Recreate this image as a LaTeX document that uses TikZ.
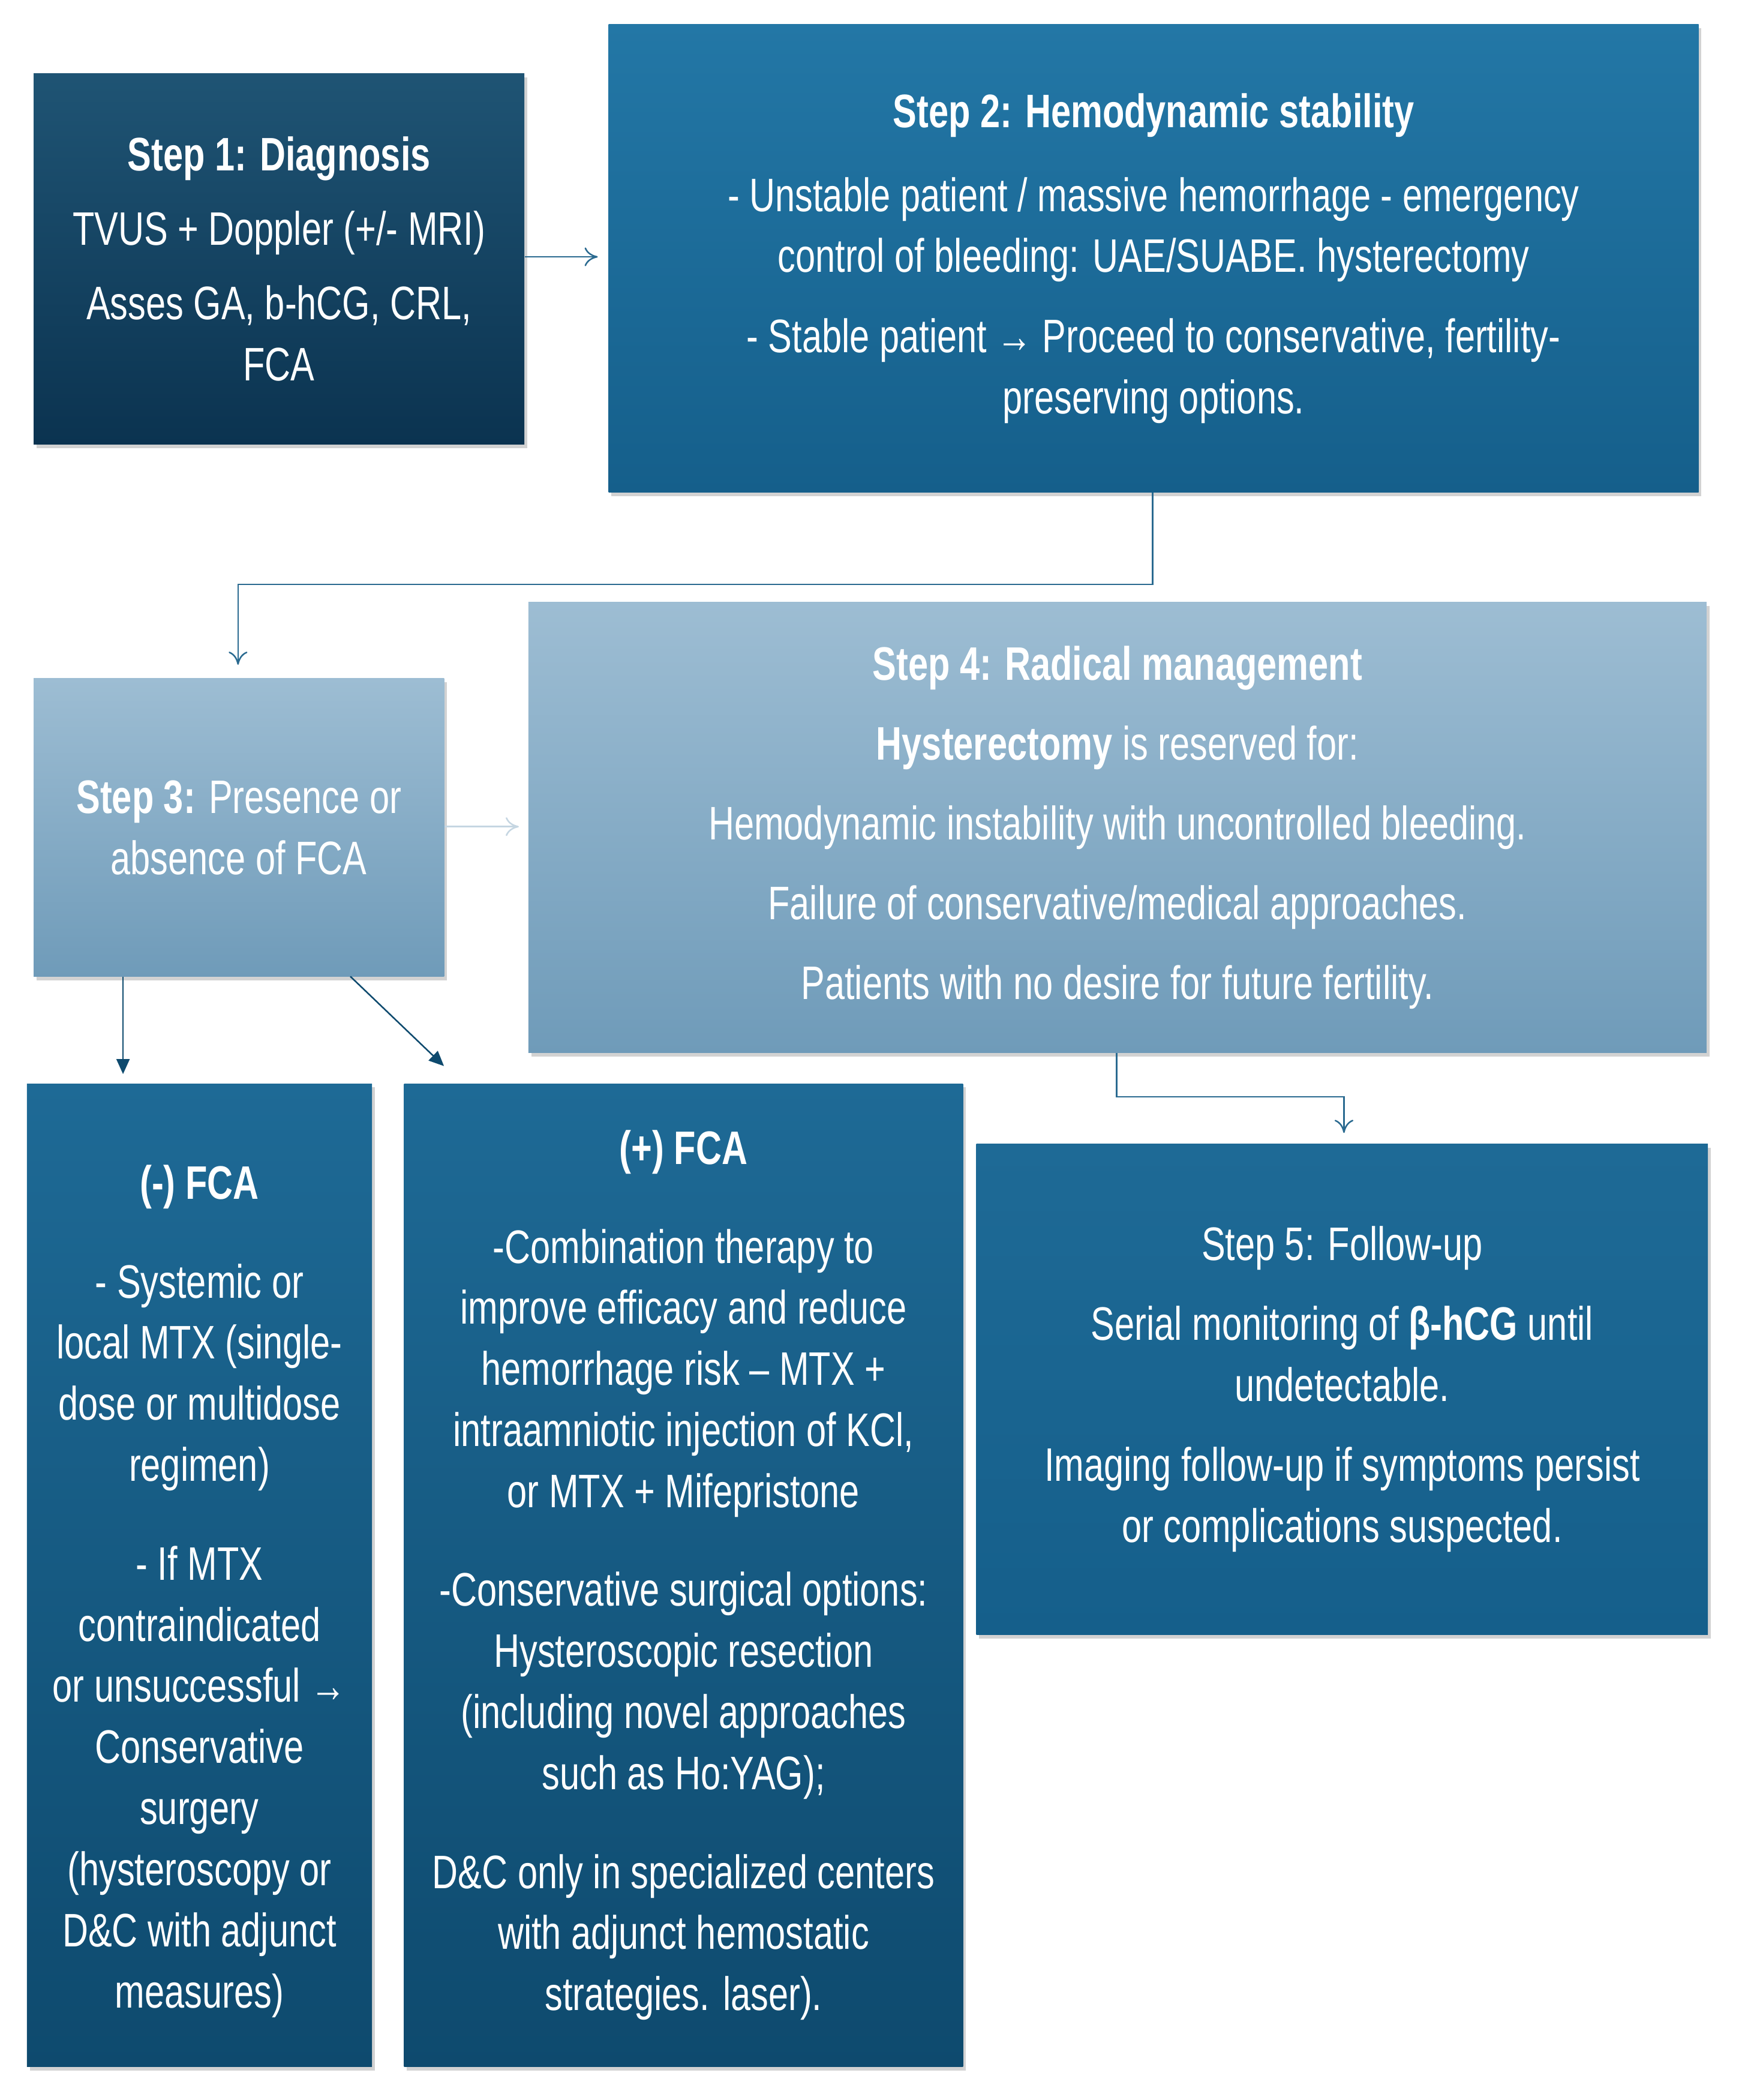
\documentclass[tikz,border=0pt]{standalone}
\usepackage{fontspec}
\setmainfont[FakeStretch=0.76]{Liberation Sans}
\usetikzlibrary{arrows.meta,shadows}
\definecolor{cA}{HTML}{1F5474}\definecolor{cB}{HTML}{0B3350}
\definecolor{cC}{HTML}{2377A6}\definecolor{cD}{HTML}{155F8B}
\definecolor{cE}{HTML}{9DBDD3}\definecolor{cF}{HTML}{6F9BB9}
\definecolor{cG}{HTML}{1E6A96}\definecolor{cH}{HTML}{0E4A6E}
\definecolor{ln}{HTML}{2A6A90}\definecolor{lt}{HTML}{C5D6E2}
\begin{document}
\begin{tikzpicture}[x=0.05cm,y=-0.05cm,
  box/.style={draw=none,anchor=north west,inner sep=0pt,align=center,text=white,
    font=\fontsize{50}{65}\selectfont,drop shadow={shadow xshift=3pt,shadow yshift=-4pt,opacity=0.35}},
  cn/.style={draw=ln,line width=1.6pt},
  op/.style={-{To[length=14pt,width=20pt]}},
  sl/.style={-{Triangle[length=16pt,width=14pt]}}]
\useasboundingbox (0,0) rectangle (1300,1570);
\fill[white] (0,0) rectangle (1300,1570);
\newcommand{\bx}[7]{\node[box,minimum width=#3*0.05cm,minimum height=#4*0.05cm,top color=#5,bottom color=#6] (#7) at (#1,#2) {};}
\bx{25}{55}{367}{277}{cA}{cB}{s1}
\bx{455}{18}{815}{350}{cC}{cD}{s2}
\bx{25}{507}{307}{223}{cE}{cF}{s3}
\bx{395}{450}{881}{337}{cE}{cF}{s4}
\bx{20}{810}{258}{735}{cG}{cH}{s3a}
\bx{302}{810}{418}{735}{cG}{cH}{s3b}
\bx{730}{855}{547}{367}{cG}{cD}{s5}
\tikzset{tx/.style={align=center,text=white,font=\fontsize{50}{65}\selectfont,inner sep=0pt}}
\node[tx] (t1) at (s1.center) {\textbf{Step 1: Diagnosis}\\[14pt] TVUS + Doppler (+/- MRI)\\[14pt] Asses GA, b-hCG, CRL,\\ FCA};
\node[tx] (t2) at (s2.center) {\textbf{Step 2: Hemodynamic stability}\\[24pt] - Unstable patient / massive hemorrhage - emergency\\ control of bleeding: UAE/SUABE. hysterectomy\\[20pt] - Stable patient → Proceed to conservative, fertility-\\ preserving options.};
\node[tx] (t3) at (s3.center) {\textbf{Step 3:} Presence or\\ absence of FCA};
\node[tx] (t4) at (s4.center) {\textbf{Step 4: Radical management}\\[20pt] \textbf{Hysterectomy} is reserved for:\\[20pt] Hemodynamic instability with uncontrolled bleeding.\\[20pt] Failure of conservative/medical approaches.\\[20pt] Patients with no desire for future fertility.};
\node[tx] (t3a) at ([yshift=-12*0.05cm]s3a.center) {\textbf{(-) FCA}\\[40pt] - Systemic or\\ local MTX (single-\\ dose or multidose\\ regimen)\\[40pt] - If MTX\\ contraindicated\\ or unsuccessful →\\ Conservative\\ surgery\\ (hysteroscopy or\\ D\&C with adjunct\\ measures)};
\node[tx] (t3b) at (s3b.center) {\textbf{(+) FCA}\\[40pt] -Combination therapy to\\ improve efficacy and reduce\\ hemorrhage risk -- MTX +\\ intraamniotic injection of KCl,\\ or MTX + Mifepristone\\[40pt] -Conservative surgical options:\\ Hysteroscopic resection\\ (including novel approaches\\ such as Ho:YAG);\\[40pt] D\&C only in specialized centers\\ with adjunct hemostatic\\ strategies. laser).};
\node[tx] (t5) at (s5.center) {Step 5: Follow-up\\[20pt] Serial monitoring of \textbf{β-hCG} until\\ undetectable.\\[20pt] Imaging follow-up if symptoms persist\\ or complications suspected.};
\coordinate (a1) at (447,192);
\coordinate (b1) at (862,437); \coordinate (b2) at (178,437); \coordinate (b3) at (178,497);
\coordinate (c1) at (388,618);
\coordinate (d1) at (92,803); \coordinate (e0) at (262,730); \coordinate (e1) at (332,797);
\coordinate (f1) at (835,820); \coordinate (f2) at (1005,820); \coordinate (f3) at (1005,847);
\draw[cn,op] (s1.east|-a1) -- (a1);
\draw[cn,op] (s2.south-|b1) -- (b1) -- (b2) -- (b3);
\draw[cn,op,draw=lt] (s3.east|-c1) -- (c1);
\draw[cn,sl,draw=cH] (s3.south-|d1) -- (d1);
\draw[cn,sl,draw=cH] (e0) -- (e1);
\draw[cn,op] (s4.south-|f1) -- (f1) -- (f2) -- (f3);
\end{tikzpicture}
\end{document}
